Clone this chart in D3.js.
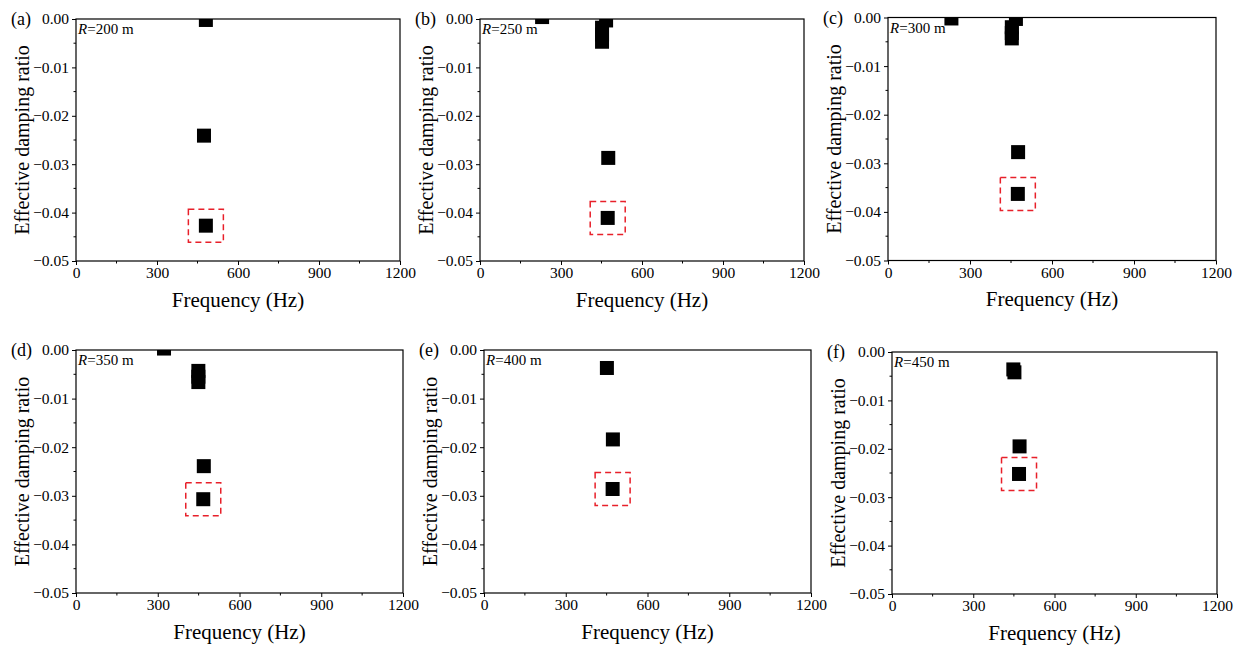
<!DOCTYPE html>
<html>
<head>
<meta charset="utf-8">
<script src="https://cdn.jsdelivr.net/npm/d3@7"></script>
<style>
	body { margin: 0; background: #fff; }
	svg { display: block; font-family: "Liberation Serif", "Times New Roman", serif; }
	.tick text { font-family: "Liberation Serif", serif; font-size: 15.5px; fill: #000; }
</style>
</head>
<body>
<svg id="chart" width="1239" height="648"></svg>
<script>
// panel ids and radii
const panelTags = ['(a)', '(b)', '(c)', '(d)', '(e)', '(f)'];
const radii = [200, 250, 300, 350, 400, 450];

// [frequency Hz, effective damping ratio]
const pointsA = [[481, -0.0002], [474, -0.0241], [481, -0.0427]];
const pointsB = [[230, 0.0004], [452, -0.0018], [452, -0.0032], [452, -0.0047], [467, -0.0003], [475, -0.0287], [473, -0.0411]];
const pointsC = [[232, -0.0002], [453, -0.002], [453, -0.0032], [453, -0.0043], [468, -0.0003], [476, -0.0277], [475, -0.0363]];
const pointsD = [[323, 0.0003], [449, -0.0043], [449, -0.0055], [449, -0.0066], [469, -0.0239], [467, -0.0307]];
const pointsE = [[451, -0.0037], [473, -0.0184], [472, -0.0286]];
const pointsF = [[448, -0.0036], [452, -0.0042], [471, -0.0195], [469, -0.0252]];
const seriesPoints = [pointsA, pointsB, pointsC, pointsD, pointsE, pointsF];

// index of the point framed by the red dashed box in each panel
const highlighted = [2, 6, 6, 5, 2, 3];

const xTicks = [0, 300, 600, 900, 1200];
const yTicks = [0, -0.01, -0.02, -0.03, -0.04, -0.05];
const xDomain = [0, 1200];
const yDomain = [-0.05, 0];

// plot rectangles on the page
const frames = [
	{ x: 76, y: 19, w: 324, h: 242 },
	{ x: 480, y: 19, w: 324, h: 242 },
	{ x: 888, y: 17.5, w: 328, h: 243 },
	{ x: 76, y: 350, w: 327, h: 243 },
	{ x: 484, y: 350, w: 327, h: 243 },
	{ x: 892, y: 352, w: 325, h: 242 }
];

const svg = d3.select('#chart');
const markerSize = 14;

const drawPanel = (i) => {
	const f = frames[i];
	const g = svg.append('g').attr('transform', `translate(${f.x},${f.y})`);

	const x = d3.scaleLinear().domain(xDomain).range([0, f.w]);
	const y = d3.scaleLinear().domain(yDomain).range([f.h, 0]);

	g.append('clipPath')
		.attr('id', `clip${i}`)
		.append('rect')
		.attr('width', f.w)
		.attr('height', f.h);

	// minor ticks
	const xMinor = d3.range(150, 1200, 300);
	const yMinor = d3.range(-0.045, 0, 0.01);

	g.append('g')
		.selectAll('line')
		.data(xMinor)
		.enter()
		.append('line')
		.attr('x1', d => x(d))
		.attr('x2', d => x(d))
		.attr('y1', f.h)
		.attr('y2', f.h + 2.5)
		.attr('stroke', '#000');

	g.append('g')
		.selectAll('line')
		.data(yMinor)
		.enter()
		.append('line')
		.attr('x1', 0)
		.attr('x2', -2.5)
		.attr('y1', d => y(d))
		.attr('y2', d => y(d))
		.attr('stroke', '#000');

	const xAxis = g.append('g')
		.attr('transform', `translate(0,${f.h})`)
		.call(d3.axisBottom(x).tickValues(xTicks).tickSize(4).tickFormat(d3.format('d')));

	const yAxis = g.append('g')
		.call(d3.axisLeft(y).tickValues(yTicks).tickSize(4).tickFormat(d => d === 0 ? '0.00' : d3.format('.2f')(d)));

	[xAxis, yAxis].forEach(a => {
		a.attr('font-family', '"Liberation Serif", serif').attr('font-size', 15.5);
		a.select('.domain').remove();
		a.selectAll('line').attr('stroke', '#000');
	});
	xAxis.selectAll('text').attr('y', 6).attr('dy', '0.71em');
	yAxis.selectAll('text').attr('x', -7);

	// frame
	g.append('rect')
		.attr('width', f.w)
		.attr('height', f.h)
		.attr('fill', 'none')
		.attr('stroke', '#000')
		.attr('stroke-width', 1.2);

	// markers
	g.append('g')
		.attr('clip-path', `url(#clip${i})`)
		.selectAll('rect')
		.data(seriesPoints[i])
		.enter()
		.append('rect')
		.attr('x', d => x(d[0]) - markerSize / 2)
		.attr('y', d => y(d[1]) - markerSize / 2)
		.attr('width', markerSize)
		.attr('height', markerSize)
		.attr('fill', '#000');

	// red dashed box around the highlighted point
	const hp = seriesPoints[i][highlighted[i]];
	g.append('rect')
		.attr('x', x(hp[0]) - 17.5)
		.attr('y', y(hp[1]) - 16.5)
		.attr('width', 35)
		.attr('height', 33)
		.attr('fill', 'none')
		.attr('stroke', '#e8202a')
		.attr('stroke-width', 1.5)
		.attr('stroke-dasharray', '6,4');

	// R label
	const rl = g.append('text')
		.attr('x', 2)
		.attr('y', 15)
		.style('font-size', '15px');
	rl.append('tspan').style('font-style', 'italic').text('R');
	rl.append('tspan').text(`=${radii[i]} m`);

	// panel tag
	g.append('text')
		.attr('x', -65)
		.attr('y', 6)
		.style('font-size', '18px')
		.text(panelTags[i]);

	// axis titles
	g.append('text')
		.attr('x', f.w / 2)
		.attr('y', f.h + 45.5)
		.attr('text-anchor', 'middle')
		.style('font-size', '21px')
		.text('Frequency (Hz)');

	g.append('text')
		.attr('transform', `translate(-47,${f.h / 2}) rotate(-90)`)
		.attr('text-anchor', 'middle')
		.style('font-size', '20px')
		.text('Effective damping ratio');
};

panelTags.forEach((tag, i) => drawPanel(i));
</script>
</body>
</html>
